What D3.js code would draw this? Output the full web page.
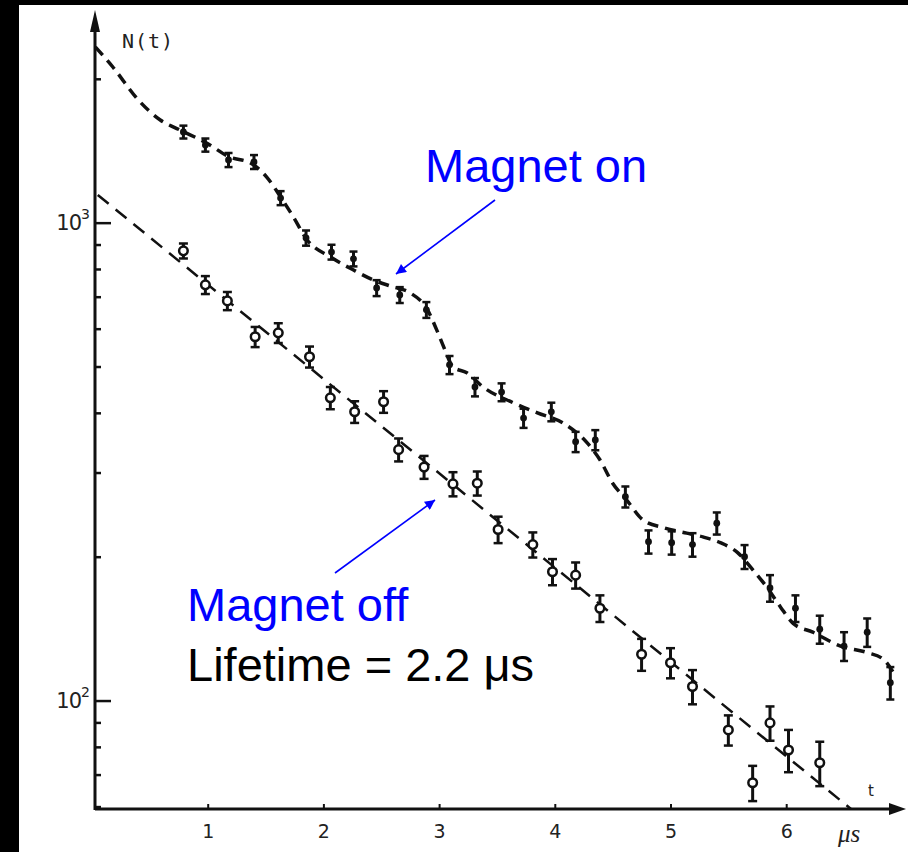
<!DOCTYPE html>
<html>
<head>
<meta charset="utf-8">
<script src="https://cdn.jsdelivr.net/npm/d3@7"></script>
<style>
  body { margin: 0; background: #fff; }
  svg { display: block; }
</style>
</head>
<body>
<div id="container"></div>
<script>
// magnet on: measured points (t in us, counts) and error half-widths
const onT = [0.79, 0.98, 1.18, 1.40, 1.63, 1.85, 2.07, 2.26, 2.46, 2.66, 2.89, 3.09, 3.31, 3.54, 3.73, 3.97, 4.18, 4.35, 4.61, 4.81, 5.01, 5.19, 5.40, 5.64, 5.86, 6.08, 6.29, 6.50, 6.70, 6.90];
const onN = [1548, 1454, 1353, 1340, 1126, 929, 868, 840, 730, 706, 657, 504, 453, 442, 390, 402, 348, 351, 267, 215, 214, 212, 235, 200, 172, 156, 141, 130, 139, 109];
const onErr = [48, 46, 46, 45, 38, 34, 31, 30, 28, 27, 25, 22, 20, 19, 18, 18, 17, 17, 13.5, 12, 12, 12, 12.5, 11.5, 11, 10, 9.5, 9, 9.5, 8.5];

// magnet on: fitted (precessing) curve
const onCurveT = [0.03, 0.18, 0.40, 0.59, 0.76, 0.99, 1.19, 1.37, 1.51, 1.63, 1.74, 1.86, 2.06, 2.26, 2.43, 2.60, 2.75, 2.90, 2.98, 3.05, 3.12, 3.24, 3.38, 3.64, 3.85, 4.07, 4.28, 4.39, 4.50, 4.62, 4.76, 4.94, 5.14, 5.28, 5.43, 5.58, 5.71, 5.83, 5.95, 6.06, 6.23, 6.47, 6.70, 6.84, 6.94];
const onCurveN = [2331, 2117, 1806, 1640, 1563, 1468, 1372, 1333, 1246, 1132, 1028, 920, 848, 796, 759, 734, 713, 657, 596, 542, 499, 485, 453, 420, 400, 381, 346, 319, 285, 263, 239, 230, 224, 220, 214, 204, 188, 173, 157, 145, 139, 130, 126, 122, 113];

// magnet off: measured points and error half-widths
const offT = [0.79, 0.98, 1.17, 1.41, 1.61, 1.88, 2.06, 2.27, 2.52, 2.65, 2.87, 3.12, 3.33, 3.51, 3.81, 3.98, 4.18, 4.39, 4.75, 5.00, 5.19, 5.50, 5.71, 5.86, 6.02, 6.29];
const offN = [873, 741, 686, 577, 588, 524, 430, 402, 422, 335, 308, 284, 285, 228, 212, 186, 183, 156, 125, 120, 107, 86.8, 67.3, 89.8, 78.8, 74.1];
const offErr = [31.5, 32, 30, 28, 28, 26.5, 23, 21, 22, 18.5, 17, 16.5, 16.5, 14.5, 12.8, 11.7, 11.5, 10, 9.6, 8.7, 8.8, 6.3, 5.7, 7.4, 8, 7.9];

// magnet off: straight exponential fit (endpoints)
const offFitT = [0.05, 6.56];
const offFitN = [1143, 59.3];

const xTicks = [1, 2, 3, 4, 5, 6];
const yMajor = [100, 1000];
const yMajorExp = ['2', '3'];
const yMinor = [60, 70, 80, 90, 200, 300, 400, 500, 600, 700, 800, 900, 2000];

const W = 908, H = 852;
const x0 = 95, yAxisPos = 809;

const svg = d3.select('#container').append('svg')
  .attr('width', W)
  .attr('height', H)
  .attr('viewBox', [0, 0, W, H]);

svg.append('rect').attr('width', W).attr('height', H).attr('fill', '#fff');
// black frame bits from the scan
svg.append('rect').attr('x', 0).attr('y', 0).attr('width', 19).attr('height', H).attr('fill', '#000');
svg.append('rect').attr('x', 0).attr('y', 0).attr('width', W).attr('height', 5).attr('fill', '#000');

const x = d3.scaleLinear().domain([0, 7]).range([92, 92 + 7 * 115.7]);
const y = d3.scaleLog().domain([59.3, 2733]).range([yAxisPos, 14]);

const defs = svg.append('defs');
defs.append('marker')
  .attr('id', 'blueHead')
  .attr('viewBox', '0 0 10 10')
  .attr('refX', 10).attr('refY', 5)
  .attr('markerWidth', 12).attr('markerHeight', 10)
  .attr('markerUnits', 'userSpaceOnUse')
  .attr('orient', 'auto')
  .append('path').attr('d', 'M0,0 L10,5 L0,10 Z').attr('fill', '#0000ff');

// ---- axes ----
const ink = '#111';
const oldFont = 'DejaVu Sans, Liberation Sans, sans-serif';

// x axis line + arrow
svg.append('line')
  .attr('x1', x0).attr('x2', 892)
  .attr('y1', yAxisPos).attr('y2', yAxisPos)
  .attr('stroke', ink).attr('stroke-width', 3);
svg.append('path')
  .attr('d', `M889,${yAxisPos - 6} L906,${yAxisPos} L889,${yAxisPos + 6} Z`)
  .attr('fill', ink);

// y axis line + arrow
svg.append('line')
  .attr('x1', x0).attr('x2', x0)
  .attr('y1', yAxisPos + 1).attr('y2', 28)
  .attr('stroke', ink).attr('stroke-width', 3);
svg.append('path')
  .attr('d', `M${x0 - 5},32 L${x0},10 L${x0 + 5},32 Z`)
  .attr('fill', ink);

const xAxis = d3.axisBottom(x)
  .tickValues(xTicks)
  .tickSize(-5)
  .tickPadding(16)
  .tickFormat(d3.format('d'));

svg.append('g')
  .attr('transform', `translate(0,${yAxisPos})`)
  .call(xAxis)
  .call(g => g.select('.domain').remove())
  .call(g => g.selectAll('line').attr('stroke', ink).attr('stroke-width', 2))
  .call(g => g.selectAll('text')
    .attr('fill', '#222')
    .attr('font-family', oldFont)
    .attr('font-size', 19));

// y minor ticks
svg.append('g')
  .attr('transform', `translate(${x0},0)`)
  .call(d3.axisRight(y).tickValues(yMinor).tickSize(6).tickFormat(''))
  .call(g => g.select('.domain').remove())
  .call(g => g.selectAll('line').attr('stroke', ink).attr('stroke-width', 2.5));

// y major ticks
svg.append('g')
  .attr('transform', `translate(${x0},0)`)
  .call(d3.axisRight(y).tickValues(yMajor).tickSize(16).tickFormat(''))
  .call(g => g.select('.domain').remove())
  .call(g => g.selectAll('line').attr('stroke', ink).attr('stroke-width', 2.5));

const yLab = svg.append('g')
  .attr('font-family', oldFont)
  .attr('fill', '#222');
yMajor.forEach((v, i) => {
  yLab.append('text')
    .attr('x', 81)
    .attr('y', y(v) + 7)
    .attr('text-anchor', 'end')
    .attr('font-size', 21)
    .attr('letter-spacing', -1)
    .text('10');
  yLab.append('text')
    .attr('x', 81)
    .attr('y', y(v) - 4)
    .attr('font-size', 14)
    .text(yMajorExp[i]);
});

svg.append('text')
  .attr('x', 122).attr('y', 48)
  .attr('font-family', 'DejaVu Sans Mono, monospace')
  .attr('font-size', 20)
  .attr('letter-spacing', 1)
  .attr('fill', '#222')
  .text('N(t)');

svg.append('text')
  .attr('x', 868).attr('y', 796)
  .attr('font-family', oldFont)
  .attr('font-size', 15)
  .attr('fill', '#222')
  .text('t');

svg.append('text')
  .attr('x', 838).attr('y', 842)
  .attr('font-family', 'Liberation Serif, serif')
  .attr('font-style', 'italic')
  .attr('font-size', 25)
  .attr('fill', '#222')
  .text('μs');

// ---- curves ----
const onCurve = onCurveT.map((t, i) => ({t, n: onCurveN[i]}));
const offFit = offFitT.map((t, i) => ({t, n: offFitN[i]}));
const line = d3.line().x(d => x(d.t)).y(d => y(d.n));

svg.append('path')
  .datum(onCurve)
  .attr('d', line.curve(d3.curveMonotoneX))
  .attr('fill', 'none')
  .attr('stroke', ink)
  .attr('stroke-width', 3.5)
  .attr('stroke-dasharray', '11,7');

svg.append('path')
  .datum(offFit)
  .attr('d', d3.line().x(d => x(d.t)).y(d => y(d.n)))
  .attr('fill', 'none')
  .attr('stroke', ink)
  .attr('stroke-width', 2.5)
  .attr('stroke-dasharray', '14,9');

// ---- magnet on points ----
const onData = onT.map((t, i) => ({t, n: onN[i], e: onErr[i]}));
const onG = svg.append('g').selectAll('g')
  .data(onData)
  .join('g');
onG.append('line')
  .attr('x1', d => x(d.t)).attr('x2', d => x(d.t))
  .attr('y1', d => y(d.n - d.e)).attr('y2', d => y(d.n + d.e))
  .attr('stroke', ink).attr('stroke-width', 3);
onG.append('line')
  .attr('x1', d => x(d.t) - 4).attr('x2', d => x(d.t) + 4)
  .attr('y1', d => y(d.n + d.e)).attr('y2', d => y(d.n + d.e))
  .attr('stroke', ink).attr('stroke-width', 2.5);
onG.append('line')
  .attr('x1', d => x(d.t) - 4).attr('x2', d => x(d.t) + 4)
  .attr('y1', d => y(d.n - d.e)).attr('y2', d => y(d.n - d.e))
  .attr('stroke', ink).attr('stroke-width', 2.5);
onG.append('circle')
  .attr('cx', d => x(d.t)).attr('cy', d => y(d.n))
  .attr('r', 3.4)
  .attr('fill', ink);

// ---- magnet off points ----
const offData = offT.map((t, i) => ({t, n: offN[i], e: offErr[i]}));
const offG = svg.append('g').selectAll('g')
  .data(offData)
  .join('g');
offG.append('line')
  .attr('x1', d => x(d.t)).attr('x2', d => x(d.t))
  .attr('y1', d => y(d.n - d.e)).attr('y2', d => y(d.n + d.e))
  .attr('stroke', ink).attr('stroke-width', 3);
offG.append('line')
  .attr('x1', d => x(d.t) - 4.5).attr('x2', d => x(d.t) + 4.5)
  .attr('y1', d => y(d.n + d.e)).attr('y2', d => y(d.n + d.e))
  .attr('stroke', ink).attr('stroke-width', 2.5);
offG.append('line')
  .attr('x1', d => x(d.t) - 4.5).attr('x2', d => x(d.t) + 4.5)
  .attr('y1', d => y(d.n - d.e)).attr('y2', d => y(d.n - d.e))
  .attr('stroke', ink).attr('stroke-width', 2.5);
offG.append('circle')
  .attr('cx', d => x(d.t)).attr('cy', d => y(d.n))
  .attr('r', 4.3)
  .attr('fill', '#fff')
  .attr('stroke', ink)
  .attr('stroke-width', 2.5);

// ---- annotations ----
const font = 'Liberation Sans, Arial, Helvetica, sans-serif';
svg.append('text')
  .attr('x', 425).attr('y', 182)
  .attr('font-family', font).attr('font-size', 47)
  .attr('fill', '#0000ff')
  .text('Magnet on');

svg.append('line')
  .attr('x1', 495).attr('y1', 200)
  .attr('x2', 396).attr('y2', 274)
  .attr('stroke', '#0000ff').attr('stroke-width', 1.6)
  .attr('marker-end', 'url(#blueHead)');

svg.append('text')
  .attr('x', 187).attr('y', 621)
  .attr('font-family', font).attr('font-size', 47)
  .attr('fill', '#0000ff')
  .text('Magnet off');

svg.append('line')
  .attr('x1', 335).attr('y1', 573)
  .attr('x2', 435).attr('y2', 500)
  .attr('stroke', '#0000ff').attr('stroke-width', 1.6)
  .attr('marker-end', 'url(#blueHead)');

svg.append('text')
  .attr('x', 187).attr('y', 681)
  .attr('font-family', font).attr('font-size', 47)
  .attr('fill', '#000')
  .text('Lifetime = 2.2 μs');
</script>
</body>
</html>
